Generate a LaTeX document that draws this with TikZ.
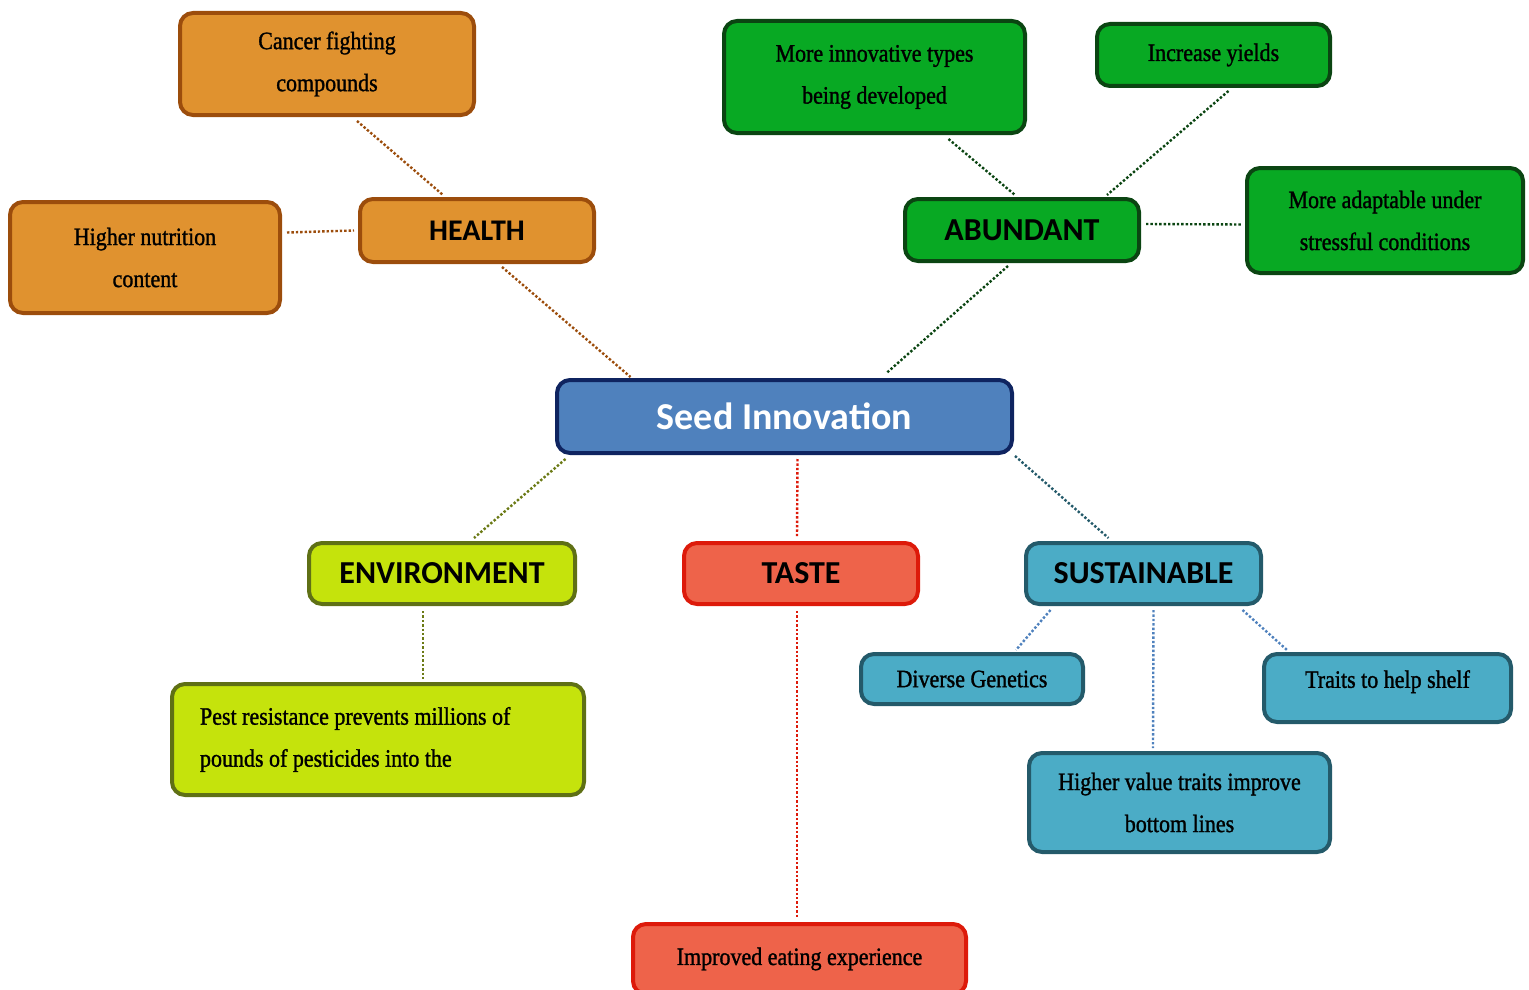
\documentclass[tikz,border=0pt]{standalone}
\usepackage{fontspec}
\newfontfamily\bodyf[FakeStretch=0.88,FakeBold=1.2]{Liberation Serif}
\newfontfamily\headf{Carlito}
\definecolor{orfill}{HTML}{E0922F}
\definecolor{ordraw}{HTML}{9C4D0C}
\definecolor{grfill}{HTML}{08A923}
\definecolor{grdraw}{HTML}{0B4512}
\definecolor{blfill}{HTML}{4F81BD}
\definecolor{bldraw}{HTML}{0F2460}
\definecolor{lmfill}{HTML}{C5E30C}
\definecolor{lmdraw}{HTML}{5F7015}
\definecolor{rdfill}{HTML}{EE634A}
\definecolor{rddraw}{HTML}{DD1A0A}
\definecolor{tlfill}{HTML}{4BACC6}
\definecolor{tldraw}{HTML}{245A6A}
\definecolor{lnol}{HTML}{6B7A15}
\definecolor{lnbl}{HTML}{4F81BD}
\begin{document}
\begin{tikzpicture}[x=1pt,y=-1pt,
  box/.style={draw,rounded corners=13pt,line width=4pt,inner sep=0pt,align=center},
  body/.style={box,font=\bodyf\fontsize{25}{42}\selectfont},
  head/.style={box,font=\headf\bfseries\fontsize{32}{36}\selectfont},
  orb/.style={fill=orfill,draw=ordraw},
  grb/.style={fill=grfill,draw=grdraw},
  lmb/.style={fill=lmfill,draw=lmdraw},
  rdb/.style={fill=rdfill,draw=rddraw},
  tlb/.style={fill=tlfill,draw=tldraw},
  link/.style={dotted,line width=2.4pt},
]
\useasboundingbox (0,0) rectangle (1529,990);
% center
\node[box,fill=blfill,draw=bldraw,text=white,font=\headf\bfseries\fontsize{38}{42}\selectfont,
  minimum width=455pt,minimum height=73pt] (seed) at (784.5,416.5) {Seed Innovation};
% HEALTH branch
\node[head,orb,minimum width=234pt,minimum height=63pt,font=\headf\bfseries\fontsize{30}{36}\selectfont] (health) at (477,230.5) {HEALTH};
\node[body,orb,minimum width=294pt,minimum height=102pt] (cancer) at (327,64) {Cancer fighting\\compounds};
\node[body,orb,minimum width=270pt,minimum height=111pt] (nutr) at (145,257.5) {Higher nutrition\\content};
% ABUNDANT branch
\node[head,grb,minimum width=234pt,minimum height=62pt] (abund) at (1022,230) {ABUNDANT};
\node[body,grb,minimum width=301pt,minimum height=112pt] (innov) at (874.5,77) {More innovative types\\being developed};
\node[body,grb,minimum width=233pt,minimum height=62pt] (yields) at (1213.5,55) {Increase yields};
\node[body,grb,minimum width=276pt,minimum height=105pt] (adapt) at (1385,220.5) {More adaptable under\\stressful conditions};
% ENVIRONMENT
\node[head,lmb,minimum width=266pt,minimum height=61pt] (env) at (442,573.5) {ENVIRONMENT};
\node[body,lmb,minimum width=412pt,minimum height=111pt,align=left] (pest) at (378,739.5)
  {\makebox[356pt][l]{Pest resistance prevents millions of}\\\makebox[356pt][l]{pounds of pesticides into the}};
% TASTE
\node[head,rdb,minimum width=234pt,minimum height=61pt] (taste) at (801,573.5) {TASTE};
\node[body,rdb,minimum width=333pt,minimum height=70pt] (eat) at (799.5,959) {Improved eating experience};
% SUSTAINABLE
\node[head,tlb,minimum width=235pt,minimum height=61pt] (sust) at (1143.5,573.5) {SUSTAINABLE};
\node[body,tlb,minimum width=222pt,minimum height=50pt] (diverse) at (972,679) {Diverse Genetics};
\node[body,tlb,minimum width=247pt,minimum height=68pt,text depth=18pt] (traits) at (1387.5,688) {Traits to help shelf};
\node[body,tlb,minimum width=301pt,minimum height=99pt] (hval) at (1179.5,802.5) {Higher value traits improve\\bottom lines};
% connectors
\draw[link,ordraw] ([xshift=30pt,yshift=-4pt]cancer.south) -- ([xshift=-34pt,yshift=2pt]health.north);
\draw[link,ordraw] ([xshift=5pt,yshift=25pt]nutr.east) -- ([xshift=-4pt]health.west);
\draw[link,ordraw] ([xshift=25pt,yshift=-3pt]health.south) -- ([xshift=-154pt,yshift=1pt]seed.north);
\draw[link,grdraw] ([xshift=74pt,yshift=-4pt]innov.south) -- ([xshift=-7pt,yshift=2pt]abund.north);
\draw[link,grdraw] ([xshift=15pt,yshift=-3pt]yields.south) -- ([xshift=85pt,yshift=2pt]abund.north);
\draw[link,grdraw] ([xshift=5pt,yshift=6pt]abund.east) -- ([xshift=-4pt,yshift=-4pt]adapt.west);
\draw[link,grdraw] ([xshift=-14pt,yshift=-3pt]abund.south) -- ([xshift=102pt,yshift=5pt]seed.north);
\draw[link,lnol] ([xshift=-219pt,yshift=-4pt]seed.south) -- ([xshift=32pt,yshift=3pt]env.north);
\draw[link,rddraw] ([xshift=13pt,yshift=-4pt]seed.south) -- ([xshift=-4pt,yshift=4pt]taste.north);
\draw[link,tldraw] ([xshift=1pt,yshift=-1pt]seed.south east) -- ([xshift=-35pt,yshift=3pt]sust.north);
\draw[link,lnol] ([xshift=-19pt,yshift=-5pt]env.south) -- ([xshift=45pt,yshift=3pt]pest.north);
\draw[link,rddraw] ([xshift=-4pt,yshift=-5pt]taste.south) -- ([xshift=-2.5pt,yshift=4pt]eat.north);
\draw[link,lnbl] ([xshift=-93pt,yshift=-4pt]sust.south) -- ([xshift=44pt,yshift=2pt]diverse.north);
\draw[link,lnbl] ([xshift=10pt,yshift=-4pt]sust.south) -- ([xshift=-26.5pt,yshift=3pt]hval.north);
\draw[link,lnbl] ([xshift=99pt,yshift=-4pt]sust.south) -- ([xshift=-100.5pt,yshift=2pt]traits.north);
\end{tikzpicture}
\end{document}
